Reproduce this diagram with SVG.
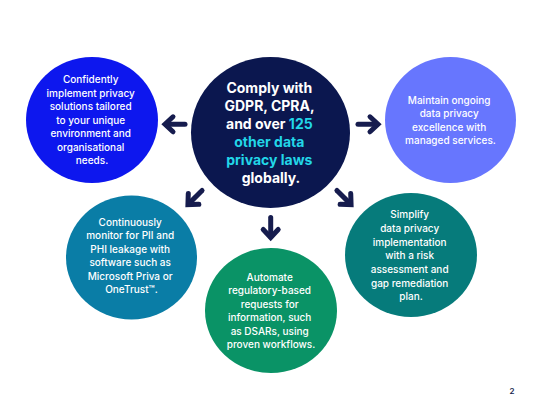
<svg xmlns="http://www.w3.org/2000/svg" xmlns:xlink="http://www.w3.org/1999/xlink" width="543" height="405" viewBox="0 0 543 405">
<style>
.body{font-family:Inter,"Liberation Sans",Arial,sans-serif;font-size:10px;font-weight:500;fill:#ffffff;text-anchor:middle}
.hub{font-family:Inter,"Liberation Sans",Arial,sans-serif;font-size:14px;font-weight:700;fill:#ffffff;text-anchor:middle}
.cy{fill:#22D6E8}
.arr{fill:none;stroke:#161C4E;stroke-width:5}
</style>
<defs>
<g id="arr">
<path class="arr" d="M-10,0 H9" stroke-linecap="round"/>
<path class="arr" d="M2,-7.5 L10,0 L2,7.5" stroke-linejoin="miter" stroke-linecap="round"/>
</g>
</defs>
<rect width="543" height="405" fill="#ffffff"/>
<g id="connectors">
<use xlink:href="#arr" href="#arr" transform="translate(175,124.3) rotate(180)"/>
<use xlink:href="#arr" href="#arr" transform="translate(368,124.3)"/>
<use xlink:href="#arr" href="#arr" transform="translate(270.7,227.5) rotate(90)"/>
<use xlink:href="#arr" href="#arr" transform="translate(195,197.5) rotate(135)"/>
<use xlink:href="#arr" href="#arr" transform="translate(344,197.5) rotate(45)"/>
</g>
<g id="hub">
<ellipse cx="270.5" cy="132.5" rx="79.5" ry="75.5" fill="#0B174F"/>
<text class="hub">
<tspan x="271" y="93">Comply with</tspan>
<tspan x="271" y="111">GDPR, CPRA,</tspan>
<tspan x="271" y="129">and over <tspan class="cy">125</tspan></tspan>
<tspan x="271" y="147" class="cy">other data</tspan>
<tspan x="271" y="165" class="cy">privacy laws</tspan>
<tspan x="271" y="183">globally.</tspan>
</text>
</g>
<g id="implement">
<ellipse cx="92" cy="120" rx="66" ry="63" fill="#0D17EE"/>
<text class="body">
<tspan x="92" y="83">Confidently</tspan>
<tspan x="92" y="96.5">implement privacy</tspan>
<tspan x="92" y="110">solutions tailored</tspan>
<tspan x="92" y="123.5">to your unique</tspan>
<tspan x="92" y="137">environment and</tspan>
<tspan x="92" y="150.5">organisational</tspan>
<tspan x="92" y="164">needs.</tspan>
</text>
</g>
<g id="maintain">
<ellipse cx="450.5" cy="120" rx="65.5" ry="63" fill="#6776FE"/>
<text class="body">
<tspan x="450.5" y="103.7">Maintain ongoing</tspan>
<tspan x="450.5" y="117">data privacy</tspan>
<tspan x="450.5" y="130.5">excellence with</tspan>
<tspan x="450.5" y="144">managed services.</tspan>
</text>
</g>
<g id="monitor">
<ellipse cx="131.5" cy="257.5" rx="65.5" ry="62" fill="#0A7DA6"/>
<text class="body">
<tspan x="131.5" y="225.5">Continuously</tspan>
<tspan x="131.5" y="239">monitor for PII and</tspan>
<tspan x="131.5" y="252.5">PHI leakage with</tspan>
<tspan x="131.5" y="266">software such as</tspan>
<tspan x="131.5" y="279.5">Microsoft Priva or</tspan>
<tspan x="131.5" y="293">OneTrust™.</tspan>
</text>
</g>
<g id="automate">
<ellipse cx="271" cy="310.5" rx="66" ry="62.5" fill="#0A9366"/>
<text class="body">
<tspan x="271" y="280.5">Automate</tspan>
<tspan x="271" y="294">regulatory-based</tspan>
<tspan x="271" y="307.5">requests for</tspan>
<tspan x="271" y="321">information, such</tspan>
<tspan x="271" y="334.5">as DSARs, using</tspan>
<tspan x="271" y="348">proven workflows.</tspan>
</text>
</g>
<g id="simplify">
<ellipse cx="411" cy="255" rx="66" ry="62" fill="#067B7B"/>
<text class="body">
<tspan x="411" y="218">Simplify</tspan>
<tspan x="411" y="232">data privacy</tspan>
<tspan x="411" y="245.5">implementation</tspan>
<tspan x="411" y="259">with a risk</tspan>
<tspan x="411" y="272.5">assessment and</tspan>
<tspan x="411" y="286.5">gap remediation</tspan>
<tspan x="411" y="300">plan.</tspan>
</text>
</g>
<text x="512" y="394" font-family="Inter,'Liberation Sans',Arial,sans-serif" font-size="8" font-weight="600" fill="#161C4E" text-anchor="middle">2</text>
</svg>
